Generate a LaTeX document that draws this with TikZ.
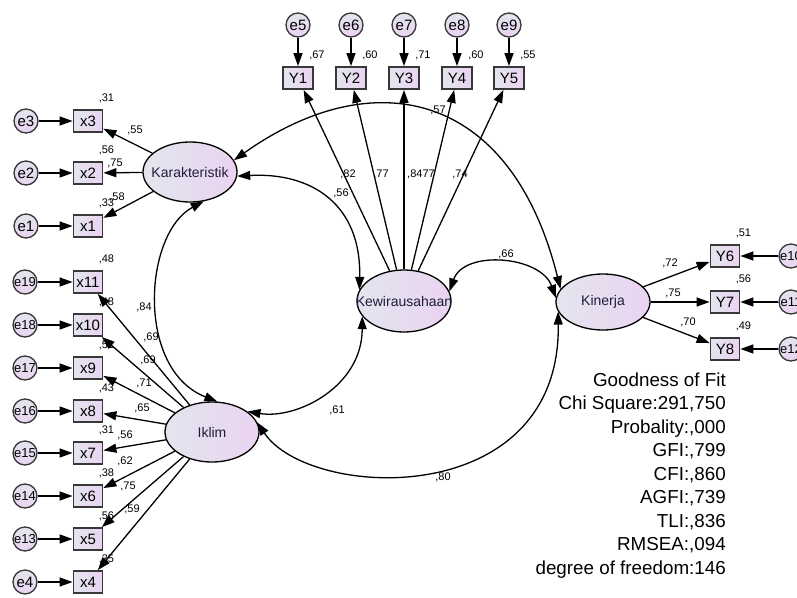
\documentclass[tikz,border=0pt]{standalone}
\usepackage{fontspec}
\setmainfont{Liberation Sans}
\usepackage{tikz}
\usetikzlibrary{arrows,arrows.meta,calc,positioning,shapes.geometric}

\definecolor{hellblau}{HTML}{E3E5EE}
\definecolor{helllila}{HTML}{EAD3F1}
\definecolor{rand}{HTML}{383838}
\definecolor{schrift}{HTML}{1E1E3C}

% Text ohne Breite, damit die Ellipsen nicht wachsen
\newcommand{\mitte}[1]{\makebox[0pt]{#1}}

\tikzset{
  pfeil/.style={-{Triangle[length=13pt,width=9pt]},line width=1.3pt,black},
  kovar/.style={{Triangle[length=13pt,width=9pt]}-{Triangle[length=13pt,width=9pt]},line width=1.3pt,black},
  latent/.style={ellipse,draw=black,line width=1.3pt,left color=hellblau,right color=helllila,
    minimum width=94pt,minimum height=60pt,inner sep=0pt,text=schrift,font=\fontsize{14}{16}\selectfont},
  manifest/.style={rectangle,draw=rand,line width=1.8pt,left color=hellblau,right color=helllila,
    minimum width=29pt,minimum height=22pt,inner sep=0pt,font=\fontsize{15}{17}\selectfont},
  fehler/.style={circle,draw=rand,line width=1.3pt,top color=hellblau,bottom color=helllila,
    minimum size=24pt,inner sep=0pt,font=\fontsize{15}{17}\selectfont},
  fehlerzwei/.style={fehler,font=\fontsize{13}{15}\selectfont},
  koef/.style={inner sep=0pt,font=\fontsize{11}{13}\selectfont},
  guete/.style={inner sep=0pt,anchor=base east,font=\fontsize{18.8}{22}\selectfont},
}

\begin{document}
\begin{tikzpicture}[x=1pt,y=-1pt]
\useasboundingbox (0,0) rectangle (797,597);

%latente Variablen
\node[latent] (kar) at (190,172) {\mitte{Karakteristik}};
\node[latent,minimum height=62pt] (kew) at (404,301) {\mitte{Kewirausahaan}};
\node[latent,minimum height=56pt] (kin) at (603,302) {\mitte{Kinerja}};
\node[latent] (ikl) at (212,432) {\mitte{Iklim}};

%Indikatoren Karakteristik
\foreach \nr/\y/\e/\r in {3/121/3/{,31},2/173/2/{,56},1/226/1/{,33}}{
  \node[manifest] (x\nr) at (88,\y) {x\nr};
  \node[fehler] (e\e) at (26,\y) {\mitte{e\e}};
  \node[koef] (r\nr) at ($(x\nr.north east)+(3,-11)$) {\r};
  \draw[pfeil] (e\e) -- (x\nr);
  \draw[pfeil] (kar) -- (x\nr);
}
%Indikatoren Iklim
\foreach \nr/\y/\e/\r/\art in {11/282/19/{,48}/fehlerzwei,10/325/18/{,48}/fehlerzwei,9/368/17/{,51}/fehlerzwei,
                               8/411/16/{,43}/fehlerzwei,7/453/15/{,31}/fehlerzwei,6/496/14/{,38}/fehlerzwei,
                               5/539/13/{,56}/fehlerzwei,4/582/4/{,35}/fehler}{
  \node[manifest] (x\nr) at (88,\y) {x\nr};
  \node[\art] (e\e) at (25,\y) {\mitte{e\e}};
  \node[koef] (r\nr) at ($(x\nr.north east)+(3,-11)$) {\r};
  \draw[pfeil] (e\e) -- (x\nr);
  \draw[pfeil] (ikl) -- (x\nr);
}
%Indikatoren Kewirausahaan
\foreach \nr/\x/\e/\r in {1/298/5/{,67},2/351/6/{,60},3/404/7/{,71},4/457/8/{,60},5/509/9/{,55}}{
  \node[manifest,minimum width=30pt] (y\nr) at (\x,78) {Y\nr};
  \node[fehler] (e\e) at (\x,25) {\mitte{e\e}};
  \node[koef] (ry\nr) at ($(y\nr.north east)+(3,-11)$) {\r};
  \draw[pfeil] (e\e) -- (y\nr);
  \draw[pfeil] (kew) -- (y\nr);
}
%Indikatoren Kinerja
\foreach \nr/\y/\e/\r in {6/256/10/{,51},7/302/11/{,56},8/349/12/{,49}}{
  \node[manifest] (y\nr) at (725,\y) {Y\nr};
  \node[fehlerzwei] (e\e) at (791,\y) {\mitte{e\e}};
  \node[koef] (ry\nr) at ($(y\nr.north east)+(3,-11)$) {\r};
  \draw[pfeil] (e\e) -- (y\nr);
  \draw[pfeil] (kin) -- (y\nr);
}

%Kovarianzen
\draw[kovar] (kar.15) .. controls +(138,-98) and +(-50,-200) .. (kin.163);
\draw[kovar] (kar.-5) .. controls +(75,-4) and +(2,-85) .. (kew.166);
\draw[kovar] (kar.-65) .. controls +(-60,32) and +(-82,-32) .. (ikl.80);
\draw[kovar] (kew.200) .. controls +(0,70) and +(50,8) .. (ikl.30);
\draw[kovar] (kew.12) .. controls +(15,-42) and +(-15,-42) .. (kin.175);
\draw[kovar] (ikl.12) .. controls +(52,78) and +(3,200) .. (kin.192);

%Koeffizienten
\foreach \w/\x/\y [count=\i] in {{,55}/135/130,{,75}/115/163,{,58}/117/197,
    {,69}/151/337,{,69}/148/360,{,71}/144/383,{,65}/142/408,{,56}/125/435,{,62}/125/461,{,75}/128/486,{,59}/132/509,
    {,82}/348/174,{,77}/381/174,{,8477}/421/174,{,74}/460/174,
    {,72}/670/263,{,75}/673/293,{,70}/688/322,
    {,57}/438/110,{,56}/341/193,{,84}/144/307,{,61}/337/410,{,66}/506/254,{,80}/443/477}{
  \node[koef] (k\i) at (\x,\y) {\w};
}

%Guete
\foreach \zeile [count=\i from 0] in {Goodness of Fit,{Chi Square:291,750},{Probality:,000},{GFI:,799},{CFI:,860},
    {AGFI:,739},{TLI:,836},{RMSEA:,094},degree of freedom:146}{
  \node[guete] (gof\i) at (726,386+23.5*\i) {\zeile};
}
\end{tikzpicture}
\end{document}
